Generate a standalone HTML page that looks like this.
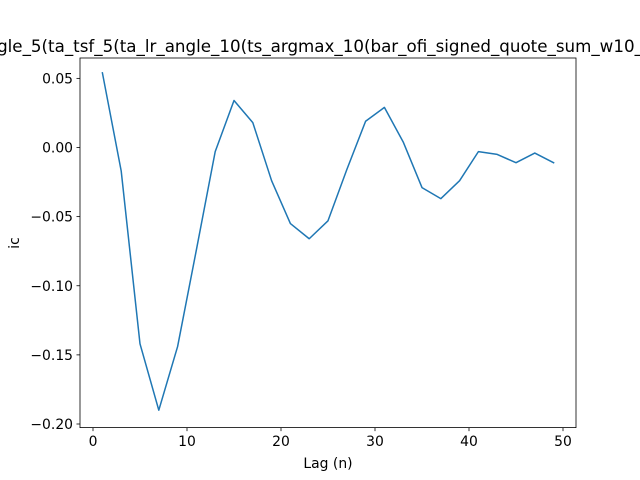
<!DOCTYPE html>
<html><head><meta charset="utf-8"><style>body{margin:0;background:#fff}svg{display:block}text{font-family:"DejaVu Sans","Liberation Sans",sans-serif;fill:#000}</style></head>
<body>
<svg id="chart" width="640" height="480">
<rect x="0" y="0" width="640" height="480" fill="#fff"/>
<text x="320" y="52" font-size="16.7" text-anchor="middle">gle_5(ta_tsf_5(ta_lr_angle_10(ts_argmax_10(bar_ofi_signed_quote_sum_w10_</text>
<g id="plot"></g>
<rect x="80" y="58" width="496" height="369.6" fill="none" stroke="#000" stroke-width="0.8"/>
<text x="328" y="468" font-size="13.9" text-anchor="middle">Lag (n)</text>
<text transform="translate(19,243) rotate(-90)" font-size="13.9" text-anchor="middle">ic</text>
</svg>
<script>
const lags=[1,3,5,7,9,11,13,15,17,19,21,23,25,27,29,31,33,35,37,39,41,43,45,47,49];
const icValues=[0.054,-0.017,-0.142,-0.190,-0.144,-0.074,-0.003,0.034,0.018,-0.024,-0.055,-0.066,-0.053,-0.016,0.019,0.029,0.004,-0.029,-0.037,-0.024,-0.003,-0.005,-0.011,-0.004,-0.011];
const xTicks=[0,10,20,30,40,50];
const yTicks=[0.05,0.00,-0.05,-0.10,-0.15,-0.20];
const yTickLabels=["0.05","0.00","−0.05","−0.10","−0.15","−0.20"];
const NS="http://www.w3.org/2000/svg";
const xs=v=>93+(v-0)*9.4;
const ys=v=>147.5-v*1382.5;
const g=document.getElementById('plot');
function mk(t,a){const e=document.createElementNS(NS,t);for(const k in a)e.setAttribute(k,a[k]);g.appendChild(e);return e;}
xTicks.forEach(t=>{
 const l=mk('line',{x1:xs(t),x2:xs(t),y1:427.6,y2:431.1,stroke:'#000','stroke-width':0.8});
 
 
 const tx=mk('text',{x:xs(t),y:446,'font-size':13.9,'text-anchor':'middle'});tx.textContent=t;
 
 
});
yTicks.forEach((t,i)=>{
 const l=mk('line',{x1:76.5,x2:80,y1:ys(t),y2:ys(t),stroke:'#000','stroke-width':0.8});
 
 
 const tx=mk('text',{x:73,y:ys(t)+5,'font-size':13.9,'text-anchor':'end'});tx.textContent=yTickLabels[i];
 
 
});
const p=mk('polyline',{points:lags.map((l,i)=>xs(l)+','+ys(icValues[i])).join(' '),fill:'none',stroke:'#1f77b4','stroke-width':1.5,'stroke-linejoin':'round','stroke-linecap':'square'});


</script>
</body></html>
